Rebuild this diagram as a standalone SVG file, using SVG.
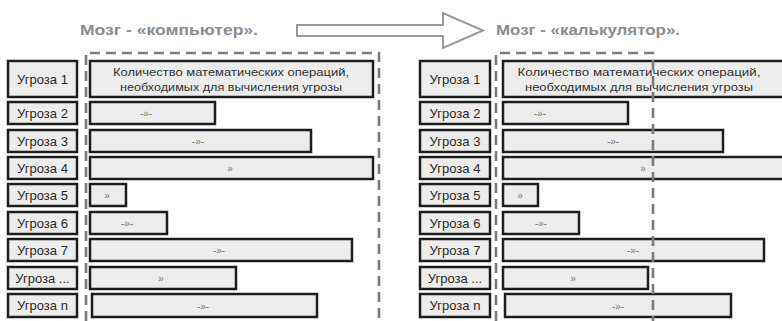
<svg xmlns="http://www.w3.org/2000/svg" width="782" height="321" viewBox="0 0 782 321">
<style>
.bg{fill:#ffffff}
.box{fill:#ececec;stroke:#1e1e1e;stroke-width:2.5}
.lbl{font-family:"Liberation Sans",Arial,sans-serif;font-size:13px;fill:#2a2a2a;text-anchor:middle}
.big{font-family:"Liberation Sans",Arial,sans-serif;font-size:11px;fill:#333;text-anchor:middle}
.ditto{font-family:"Liberation Sans",Arial,sans-serif;font-size:10px;fill:#777;text-anchor:middle}
.title{font-family:"Liberation Sans",Arial,sans-serif;font-size:14.5px;font-weight:bold;fill:#8c8c8c}
.frame{fill:none;stroke:#7a7a7a;stroke-width:2.6;stroke-dasharray:10,6}
.arrow{fill:#ffffff;stroke:#9a9a9a;stroke-width:2}
</style>
<rect class="bg" x="0" y="0" width="782" height="321"/>

<g id="titles">
<text class="title" x="80" y="35" textLength="178" lengthAdjust="spacingAndGlyphs">Мозг - «компьютер».</text>
<text class="title" x="496" y="35" textLength="184" lengthAdjust="spacingAndGlyphs">Мозг - «калькулятор».</text>
</g>

<g id="connectors">
<path class="arrow" d="M297,25 H443 V13 L483,30.5 L443,48 V36 H297 Z"/>
</g>

<g id="left-frame">
<path class="frame" d="M86,321 V53 H379 V321"/>
</g>

<g id="left">
<g id="L1"><rect class="box" x="8" y="61" width="69" height="36"/><text class="lbl" x="42.5" y="84">Угроза 1</text></g>
<g id="LB1"><rect class="box" x="90" y="61" width="283" height="36"/>
<text class="big" x="231" y="76" textLength="236" lengthAdjust="spacingAndGlyphs">Количество математических операций,</text>
<text class="big" x="231" y="91" textLength="222" lengthAdjust="spacingAndGlyphs">необходимых для вычисления угрозы</text></g>

<g id="L2"><rect class="box" x="8" y="102" width="69" height="22"/><text class="lbl" x="42.5" y="117.5">Угроза 2</text></g>
<g id="LB2"><rect class="box" x="90" y="102" width="125" height="22"/><text class="ditto" x="146" y="116.5">-»-</text></g>

<g id="L3"><rect class="box" x="8" y="130" width="69" height="22"/><text class="lbl" x="42.5" y="145.5">Угроза 3</text></g>
<g id="LB3"><rect class="box" x="90" y="130" width="221" height="22"/><text class="ditto" x="198" y="144.5">-»-</text></g>

<g id="L4"><rect class="box" x="8" y="157" width="69" height="22"/><text class="lbl" x="42.5" y="172.5">Угроза 4</text></g>
<g id="LB4"><rect class="box" x="90" y="157" width="283" height="22"/><text class="ditto" x="230" y="171.5">»</text></g>

<g id="L5"><rect class="box" x="8" y="184" width="69" height="22"/><text class="lbl" x="42.5" y="199.5">Угроза 5</text></g>
<g id="LB5"><rect class="box" x="90" y="184" width="36" height="22"/><text class="ditto" x="107" y="198.5">»</text></g>

<g id="L6"><rect class="box" x="8" y="212" width="69" height="22"/><text class="lbl" x="42.5" y="227.5">Угроза 6</text></g>
<g id="LB6"><rect class="box" x="90" y="212" width="77" height="22"/><text class="ditto" x="127" y="226.5">-»-</text></g>

<g id="L7"><rect class="box" x="8" y="239" width="69" height="22"/><text class="lbl" x="42.5" y="254.5">Угроза 7</text></g>
<g id="LB7"><rect class="box" x="90" y="239" width="262" height="22"/><text class="ditto" x="219" y="253.5">-»-</text></g>

<g id="L8"><rect class="box" x="8" y="267" width="69" height="22"/><text class="lbl" x="42.5" y="282.5">Угроза ...</text></g>
<g id="LB8"><rect class="box" x="90" y="267" width="146" height="22"/><text class="ditto" x="161" y="281.5">»</text></g>

<g id="L9"><rect class="box" x="8" y="294" width="69" height="23"/><text class="lbl" x="42.5" y="310">Угроза n</text></g>
<g id="LB9"><rect class="box" x="92" y="294" width="225" height="23"/><text class="ditto" x="203" y="309.5">-»-</text></g>
</g>

<g id="right">
<g id="R1"><rect class="box" x="420" y="61" width="70" height="36"/><text class="lbl" x="455" y="84">Угроза 1</text></g>
<g id="RB1"><rect class="box" x="503" y="61" width="290" height="36"/>
<text class="big" x="639" y="76" textLength="243" lengthAdjust="spacingAndGlyphs">Количество математических операций,</text>
<text class="big" x="639" y="91" textLength="228" lengthAdjust="spacingAndGlyphs">необходимых для вычисления угрозы</text></g>

<g id="R2"><rect class="box" x="420" y="102" width="70" height="22"/><text class="lbl" x="455" y="117.5">Угроза 2</text></g>
<g id="RB2"><rect class="box" x="503" y="102" width="125" height="22"/><text class="ditto" x="540" y="116.5">-»-</text></g>

<g id="R3"><rect class="box" x="420" y="130" width="70" height="22"/><text class="lbl" x="455" y="145.5">Угроза 3</text></g>
<g id="RB3"><rect class="box" x="503" y="130" width="220" height="22"/><text class="ditto" x="613" y="144.5">-»-</text></g>

<g id="R4"><rect class="box" x="420" y="157" width="70" height="22"/><text class="lbl" x="455" y="172.5">Угроза 4</text></g>
<g id="RB4"><rect class="box" x="503" y="157" width="290" height="22"/><text class="ditto" x="643" y="171.5">»</text></g>

<g id="R5"><rect class="box" x="420" y="184" width="70" height="22"/><text class="lbl" x="455" y="199.5">Угроза 5</text></g>
<g id="RB5"><rect class="box" x="503" y="184" width="35" height="22"/><text class="ditto" x="520" y="198.5">»</text></g>

<g id="R6"><rect class="box" x="420" y="212" width="70" height="22"/><text class="lbl" x="455" y="227.5">Угроза 6</text></g>
<g id="RB6"><rect class="box" x="503" y="212" width="76" height="22"/><text class="ditto" x="541" y="226.5">-»-</text></g>

<g id="R7"><rect class="box" x="420" y="239" width="70" height="22"/><text class="lbl" x="455" y="254.5">Угроза 7</text></g>
<g id="RB7"><rect class="box" x="503" y="239" width="261" height="22"/><text class="ditto" x="633" y="253.5">-»-</text></g>

<g id="R8"><rect class="box" x="420" y="267" width="70" height="22"/><text class="lbl" x="455" y="282.5">Угроза ...</text></g>
<g id="RB8"><rect class="box" x="503" y="267" width="145" height="22"/><text class="ditto" x="573" y="281.5">»</text></g>

<g id="R9"><rect class="box" x="420" y="294" width="70" height="23"/><text class="lbl" x="455" y="310">Угроза n</text></g>
<g id="RB9"><rect class="box" x="505" y="294" width="226" height="23"/><text class="ditto" x="618" y="309.5">-»-</text></g>
</g>

<g id="right-frame">
<path class="frame" d="M496,321 V53 H653 V321"/>
</g>
</svg>
